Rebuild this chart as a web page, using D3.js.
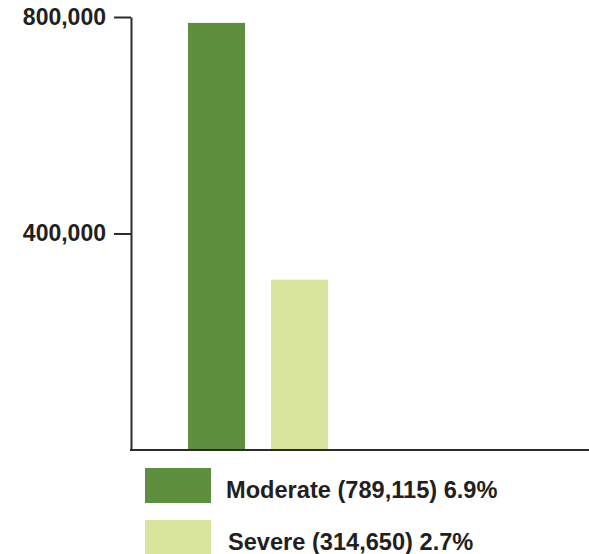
<!DOCTYPE html>
<html>
<head>
<meta charset="utf-8">
<script src="https://cdn.jsdelivr.net/npm/d3@7"></script>
<style>
  html, body { margin: 0; padding: 0; background: #ffffff; }
  svg { display: block; font-family: "Liberation Sans", Arial, Helvetica, sans-serif; }
</style>
</head>
<body>
<svg id="chart" width="589" height="554"></svg>
<script>
// Categories and their values
const categories = ["Moderate", "Severe"];
const values = [789115, 314650];
const percents = ["6.9%", "2.7%"];
const colors = ["#5e8f3f", "#d9e59c"];
const tickValues = [400000, 800000];

const svg = d3.select("#chart");
const textColor = "#231f20";
const axisColor = "#2b2b2b";

const y = d3.scaleLinear().domain([0, 800000]).range([450, 17]);
const x = d3.scaleBand().domain(categories).range([188, 328])
  .paddingInner(0.313).paddingOuter(0);

// Bars
svg.append("g").selectAll("rect")
  .data(categories)
  .join("rect")
  .attr("x", d => x(d))
  .attr("width", x.bandwidth())
  .attr("y", (d, i) => y(values[i]))
  .attr("height", (d, i) => y(0) - y(values[i]))
  .attr("fill", (d, i) => colors[i]);

// Y axis
const yAxis = d3.axisLeft(y)
  .tickValues(tickValues)
  .tickFormat(d3.format(","))
  .tickSize(17)
  .tickSizeOuter(0)
  .tickPadding(8);

const gy = svg.append("g")
  .attr("transform", "translate(131,0)")
  .call(yAxis);
gy.select(".domain").attr("stroke", axisColor).attr("stroke-width", 2);
gy.selectAll(".tick line").attr("stroke", axisColor).attr("stroke-width", 2);
gy.selectAll(".tick text")
  .attr("fill", textColor)
  .attr("font-size", 23)
  .attr("font-weight", "bold")
  .attr("font-family", "'Liberation Sans', Arial, sans-serif");

// Baseline
svg.append("line")
  .attr("x1", 130).attr("x2", 589)
  .attr("y1", y(0)).attr("y2", y(0))
  .attr("stroke", axisColor)
  .attr("stroke-width", 2);

// Legend
const legendTop = [468, 520];
const fmt = d3.format(",");
const legend = svg.append("g").selectAll("g")
  .data(categories)
  .join("g");

legend.append("rect")
  .attr("x", 145)
  .attr("y", (d, i) => legendTop[i])
  .attr("width", 66)
  .attr("height", 35)
  .attr("fill", (d, i) => colors[i]);

legend.append("text")
  .attr("x", (d, i) => i === 0 ? 226 : 228)
  .attr("y", (d, i) => legendTop[i] + 30)
  .attr("fill", textColor)
  .attr("font-size", 23.6)
  .attr("font-weight", "bold")
  .text((d, i) => `${d} (${fmt(values[i])}) ${percents[i]}`);
</script>
</body>
</html>
